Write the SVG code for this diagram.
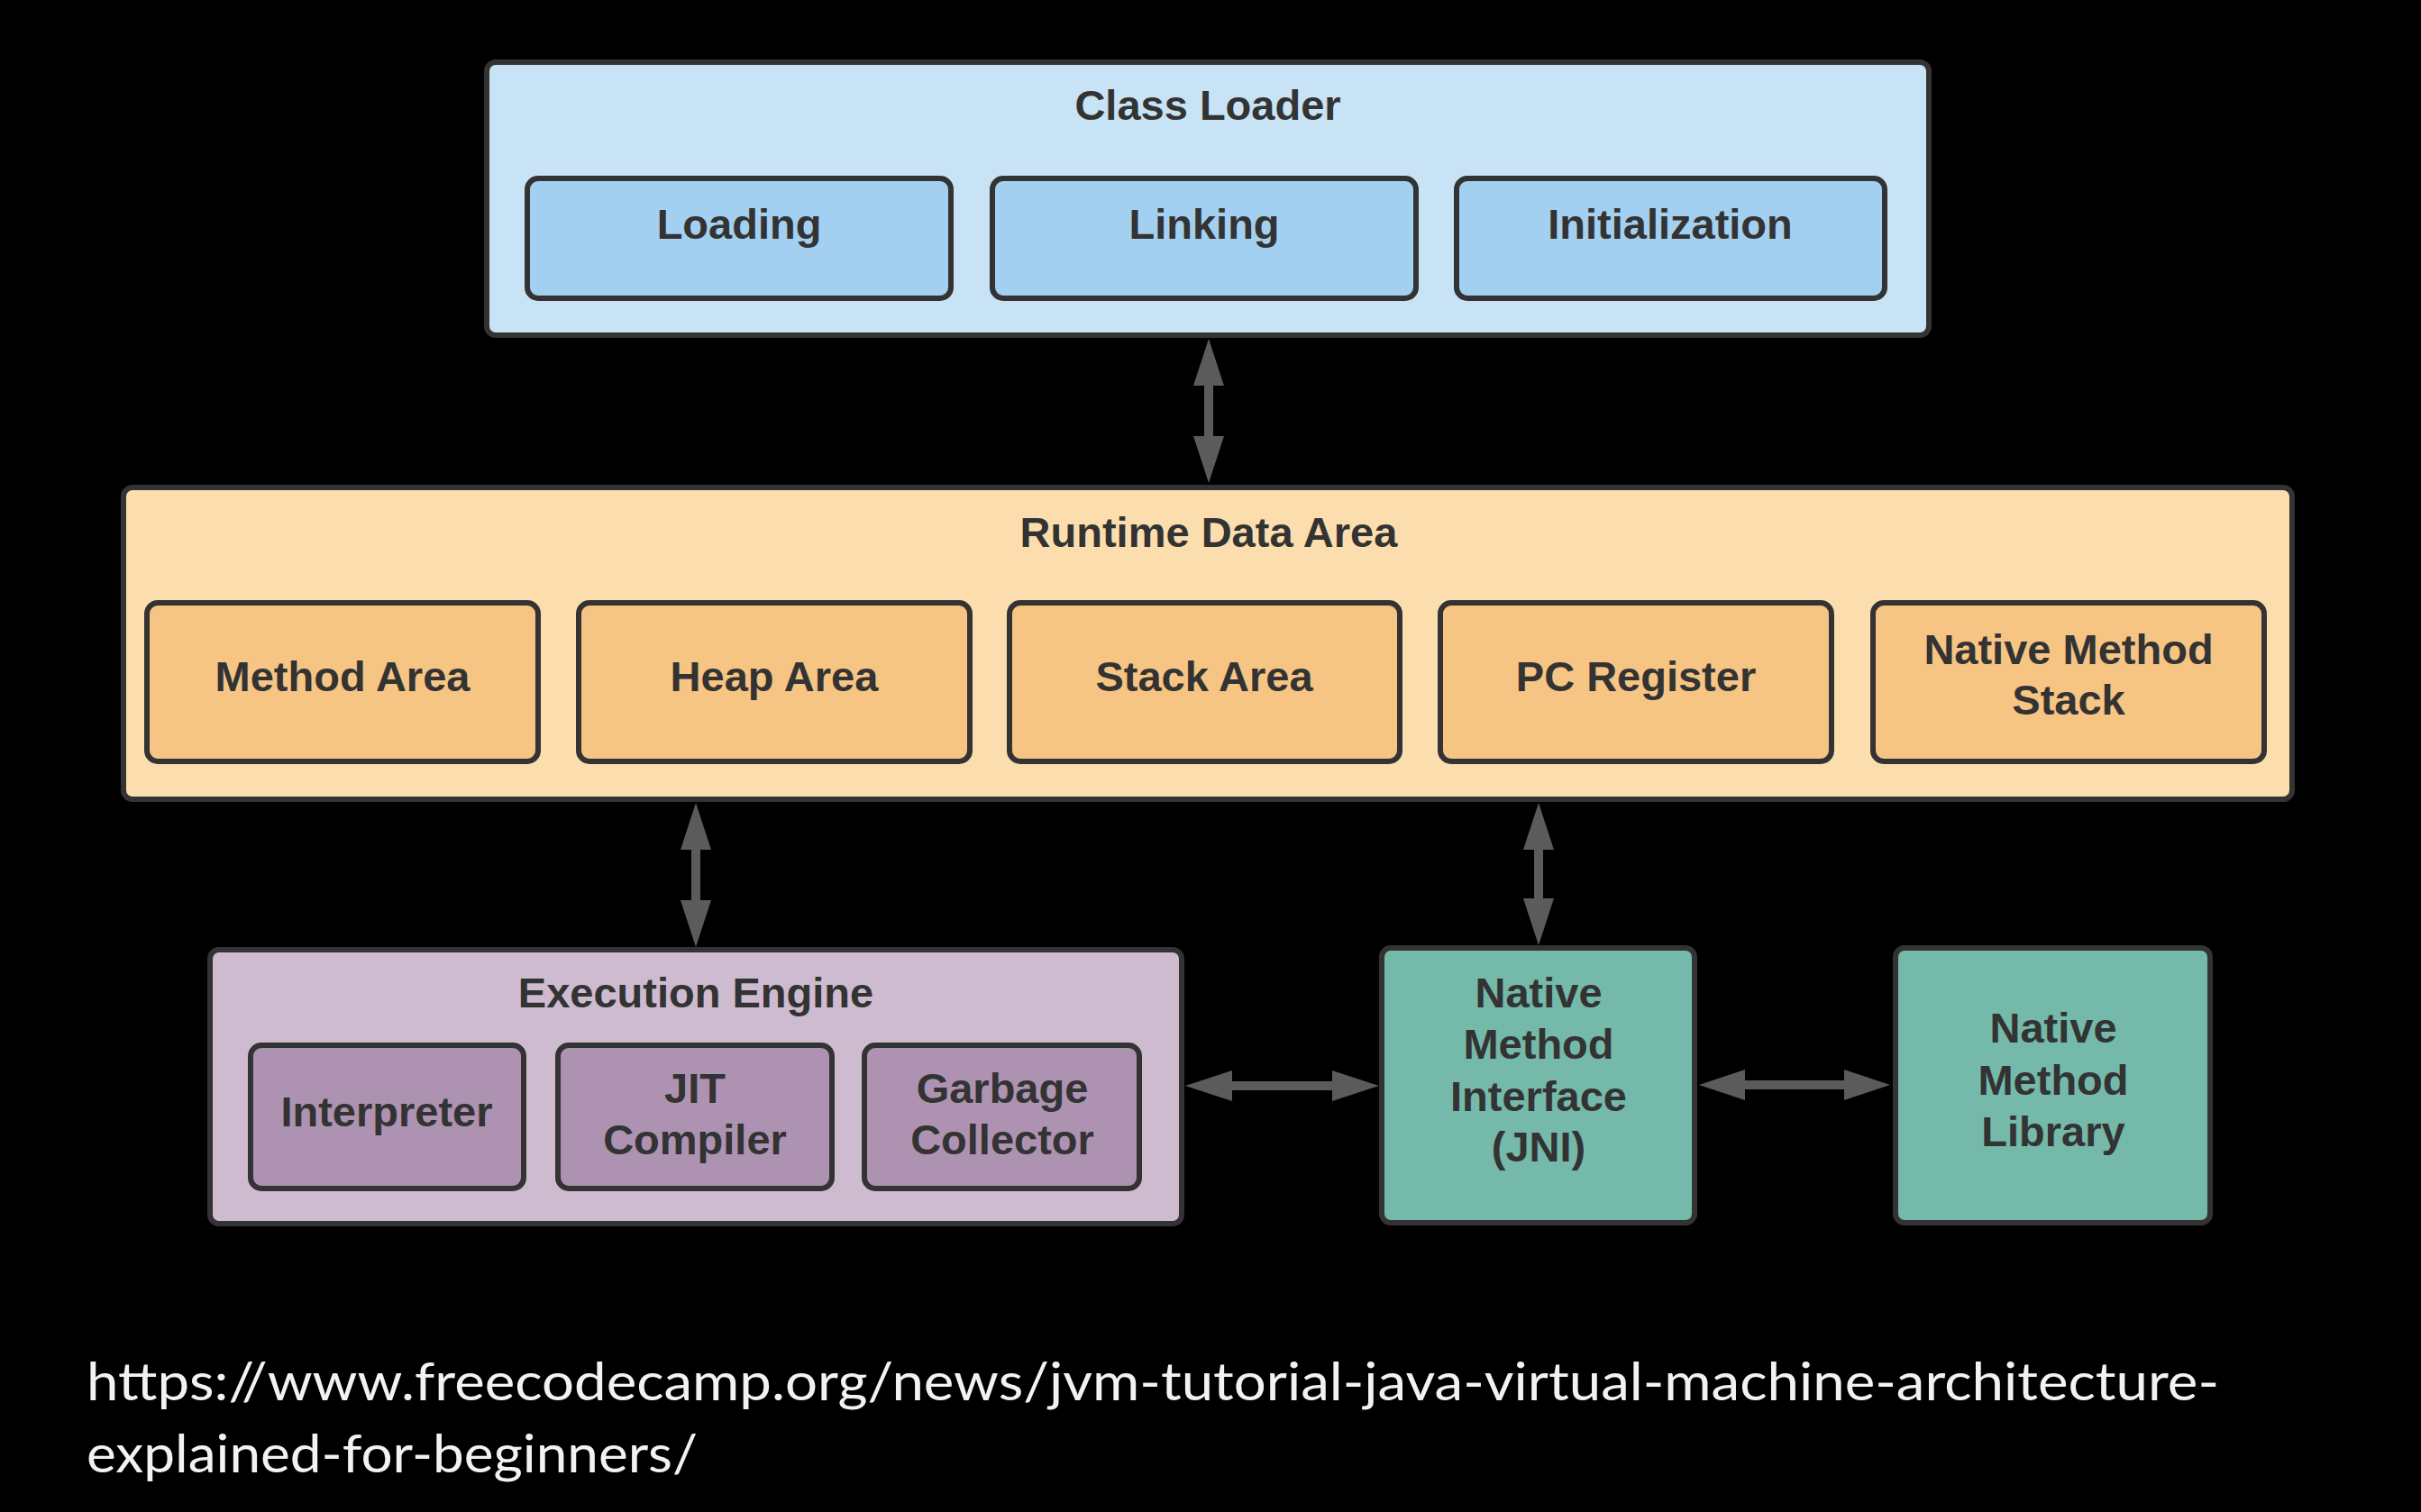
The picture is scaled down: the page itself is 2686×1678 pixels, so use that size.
<svg xmlns="http://www.w3.org/2000/svg" width="2686" height="1678" viewBox="0 0 2686 1678">
<style>
.box{stroke:#333333;stroke-width:6}
.t{font-family:"Liberation Sans",Arial,sans-serif;font-weight:bold;font-size:47px;fill:#333333;text-anchor:middle}
.url{font-family:Lato,"Open Sans",sans-serif;font-size:58px;fill:#F2F2F2}
.arr{fill:#5b5b5b}
</style>
<rect x="0" y="0" width="2686" height="1678" fill="#000000"/>

<g id="class-loader">
<rect class="box" x="540" y="69" width="1600" height="303" rx="10" fill="#C8E3F5"/>
<text class="t" x="1340" y="133">Class Loader</text>
</g>
<g id="loading">
<rect class="box" x="585" y="198" width="470" height="133" rx="12" fill="#A3D0F0"/>
<text class="t" x="820" y="265">Loading</text>
</g>
<g id="linking">
<rect class="box" x="1101" y="198" width="470" height="133" rx="12" fill="#A3D0F0"/>
<text class="t" x="1336" y="265">Linking</text>
</g>
<g id="initialization">
<rect class="box" x="1616" y="198" width="475" height="133" rx="12" fill="#A3D0F0"/>
<text class="t" x="1853" y="265">Initialization</text>
</g>

<g id="runtime-data-area">
<rect class="box" x="137" y="541" width="2406" height="346" rx="10" fill="#FCDEAE"/>
<text class="t" x="1341" y="607">Runtime Data Area</text>
</g>
<g id="method-area">
<rect class="box" x="163" y="669" width="434" height="176" rx="12" fill="#F6C483"/>
<text class="t" x="380" y="767">Method Area</text>
</g>
<g id="heap-area">
<rect class="box" x="642" y="669" width="434" height="176" rx="12" fill="#F6C483"/>
<text class="t" x="859" y="767">Heap Area</text>
</g>
<g id="stack-area">
<rect class="box" x="1120" y="669" width="433" height="176" rx="12" fill="#F6C483"/>
<text class="t" x="1336" y="767">Stack Area</text>
</g>
<g id="pc-register">
<rect class="box" x="1598" y="669" width="434" height="176" rx="12" fill="#F6C483"/>
<text class="t" x="1815" y="767">PC Register</text>
</g>
<g id="native-method-stack">
<rect class="box" x="2078" y="669" width="434" height="176" rx="12" fill="#F6C483"/>
<text class="t" x="2295" y="737">Native Method</text>
<text class="t" x="2295" y="793">Stack</text>
</g>

<g id="execution-engine">
<rect class="box" x="233" y="1054" width="1078" height="304" rx="10" fill="#CEBBD0"/>
<text class="t" x="772" y="1118">Execution Engine</text>
</g>
<g id="interpreter">
<rect class="box" x="278" y="1160" width="303" height="159" rx="12" fill="#AE92B2"/>
<text class="t" x="429" y="1250">Interpreter</text>
</g>
<g id="jit-compiler">
<rect class="box" x="619" y="1160" width="304" height="159" rx="12" fill="#AE92B2"/>
<text class="t" x="771" y="1224">JIT</text>
<text class="t" x="771" y="1281">Compiler</text>
</g>
<g id="garbage-collector">
<rect class="box" x="959" y="1160" width="305" height="159" rx="12" fill="#AE92B2"/>
<text class="t" x="1112" y="1224">Garbage</text>
<text class="t" x="1112" y="1281">Collector</text>
</g>

<g id="jni">
<rect class="box" x="1533" y="1052" width="347" height="305" rx="10" fill="#74B9A9"/>
<text class="t" x="1707" y="1118">Native</text>
<text class="t" x="1707" y="1175">Method</text>
<text class="t" x="1707" y="1233">Interface</text>
<text class="t" x="1707" y="1289">(JNI)</text>
</g>
<g id="native-method-library">
<rect class="box" x="2103" y="1052" width="349" height="305" rx="10" fill="#74B9A9"/>
<text class="t" x="2278" y="1157">Native</text>
<text class="t" x="2278" y="1215">Method</text>
<text class="t" x="2278" y="1272">Library</text>
</g>

<g id="connectors">
<polygon class="arr" points="1341,376 1358,428 1346,428 1346,484 1358,484 1341,536 1324,484 1336,484 1336,428 1324,428"/>
<polygon class="arr" points="772,891 789,943 777,943 777,999 789,999 772,1051 755,999 767,999 767,943 755,943"/>
<polygon class="arr" points="1707,891 1724,943 1712,943 1712,997 1724,997 1707,1049 1690,997 1702,997 1702,943 1690,943"/>
<polygon class="arr" points="1315,1205 1367,1188 1367,1200 1478,1200 1478,1188 1530,1205 1478,1222 1478,1210 1367,1210 1367,1222"/>
<polygon class="arr" points="1885,1204 1936,1187 1936,1199 2046,1199 2046,1187 2097,1204 2046,1221 2046,1209 1936,1209 1936,1221"/>
</g>

<g id="caption">
<text class="url" x="96" y="1554" textLength="2366" lengthAdjust="spacingAndGlyphs">https://www.freecodecamp.org/news/jvm-tutorial-java-virtual-machine-architecture-</text>
<text class="url" x="96" y="1634" textLength="678" lengthAdjust="spacingAndGlyphs">explained-for-beginners/</text>
</g>
</svg>
